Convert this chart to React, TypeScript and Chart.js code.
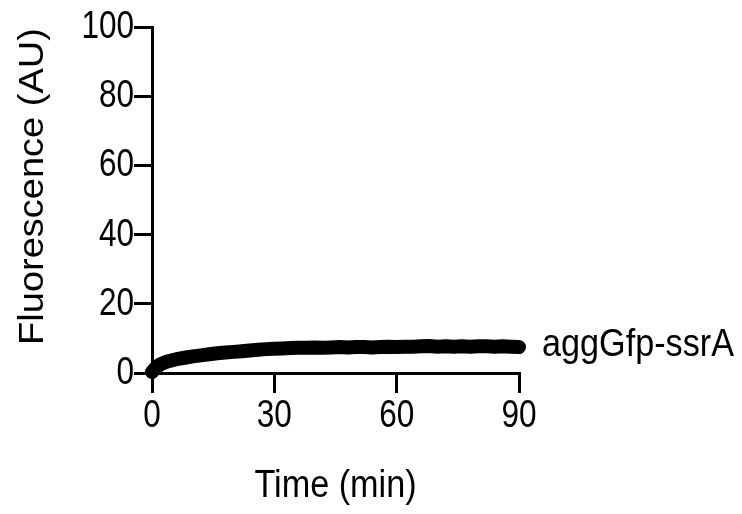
import React, { useEffect, useRef } from "react";
import { Chart, registerables } from "chart.js";

Chart.register(...registerables);

// Time points (min) and fluorescence readings (AU)
const timeMin = [
  0, 1, 2, 3, 4, 6, 8, 10, 12, 14, 16, 18, 20, 22, 24, 26, 28, 30, 32, 34, 36, 38,
  40, 42, 44, 46, 48, 50, 52, 54, 56, 58, 60, 62, 64, 66, 68, 70, 72, 74, 76, 78,
  80, 82, 84, 86, 88, 90,
];
const fluorescence = [
  0.3, 1.6, 2.5, 3.0, 3.4, 4.0, 4.4, 4.8, 5.1, 5.4, 5.7, 5.9, 6.1, 6.3, 6.5, 6.7,
  6.9, 7.0, 7.1, 7.2, 7.3, 7.3, 7.4, 7.3, 7.4, 7.5, 7.4, 7.5, 7.5, 7.4, 7.5, 7.6,
  7.5, 7.6, 7.6, 7.7, 7.8, 7.6, 7.7, 7.6, 7.7, 7.6, 7.7, 7.7, 7.6, 7.7, 7.6, 7.5,
];

const seriesName = "aggGfp-ssrA";
const xTicks = [0, 30, 60, 90];
const yTicks = [0, 20, 40, 60, 80, 100];
const xTitle = "Time (min)";
const yTitle = "Fluorescence (AU)";

const FONT = '38px "Liberation Sans", Arial, sans-serif';

// Draws all chart text in a slightly condensed Arial-like face
const textPlugin = {
  id: "condensedText",
  afterDraw(chart: Chart) {
    const { ctx, scales, chartArea } = chart;
    const xs = scales.x;
    const ys = scales.y;
    ctx.save();
    ctx.fillStyle = "#000";
    ctx.font = FONT;

    const put = (text: string, x: number, y: number, align: CanvasTextAlign, sx: number) => {
      ctx.save();
      ctx.translate(x, y);
      ctx.scale(sx, 1);
      ctx.textAlign = align;
      ctx.textBaseline = "alphabetic";
      ctx.fillText(text, 0, 0);
      ctx.restore();
    };

    yTicks.forEach((v) => {
      put(String(v), chartArea.left - 18, ys.getPixelForValue(v) + 11, "right", 0.83);
    });
    xTicks.forEach((v) => {
      put(String(v), xs.getPixelForValue(v), chartArea.bottom + 54, "center", 0.83);
    });

    put(xTitle, (chartArea.left + chartArea.right) / 2, chartArea.bottom + 124, "center", 0.9);

    const last = fluorescence.length - 1;
    put(seriesName, chartArea.right + 23, ys.getPixelForValue(fluorescence[last]) + 9, "left", 0.9);

    ctx.save();
    ctx.translate(43, 186.5);
    ctx.rotate(-Math.PI / 2);
    ctx.scale(1, 0.9);
    ctx.textAlign = "center";
    ctx.textBaseline = "alphabetic";
    ctx.fillText(yTitle, 0, 0);
    ctx.restore();

    ctx.restore();
  },
};

export default function App() {
  const canvasRef = useRef<HTMLCanvasElement>(null);

  useEffect(() => {
    if (!canvasRef.current) return;
    const chart = new Chart(canvasRef.current, {
      type: "line",
      data: {
        datasets: [
          {
            label: seriesName,
            data: timeMin.map((t, i) => ({ x: t, y: fluorescence[i] })),
            borderColor: "#000",
            backgroundColor: "#000",
            borderWidth: 14,
            borderCapStyle: "round",
            borderJoinStyle: "round",
            pointRadius: 0,
            tension: 0,
            clip: false,
          },
        ],
      },
      options: {
        animation: false,
        responsive: true,
        maintainAspectRatio: false,
        layout: { padding: { left: 134, top: 27, right: 223, bottom: 121 } },
        plugins: { legend: { display: false }, tooltip: { enabled: false } },
        scales: {
          x: {
            type: "linear",
            min: 0,
            max: 90,
            ticks: { display: false, stepSize: 30 },
            grid: {
              display: true,
              drawOnChartArea: false,
              drawTicks: true,
              tickLength: 20,
              lineWidth: 3,
              color: "#000",
            },
            border: { display: true, color: "#000", width: 3 },
          },
          y: {
            type: "linear",
            min: 0,
            max: 100,
            ticks: { display: false, stepSize: 20 },
            grid: {
              display: true,
              drawOnChartArea: false,
              drawTicks: true,
              tickLength: 18,
              lineWidth: 3,
              color: "#000",
            },
            border: { display: true, color: "#000", width: 3 },
          },
        },
      },
      plugins: [textPlugin],
    });
    return () => chart.destroy();
  }, []);

  return (
    <div style={{ position: "absolute", left: 0, top: 0, width: 742, height: 514, background: "#fff" }}>
      <canvas ref={canvasRef} />
    </div>
  );
}
